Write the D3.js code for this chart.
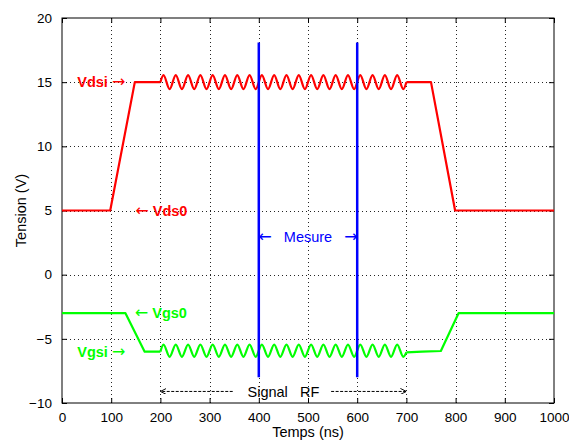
<!DOCTYPE html>
<html>
<head>
<meta charset="utf-8">
<script src="https://cdn.jsdelivr.net/npm/d3@7"></script>
<style>
  html, body { margin: 0; padding: 0; background: #ffffff; }
  svg { display: block; font-family: "Liberation Sans", Arial, sans-serif; }
</style>
</head>
<body>
<svg id="chart" width="569" height="442"></svg>
<script>
// Axis ticks
const xTicks = [0, 100, 200, 300, 400, 500, 600, 700, 800, 900, 1000];
const yTicks = [-10, -5, 0, 5, 10, 15, 20];

// Drain-source voltage: steps before and after the RF burst (ns, V)
const vdsBefore = [[0, 5], [98, 5], [148, 15], [200, 15]];
const vdsAfter = [[700, 15], [750, 15], [799, 5], [1000, 5]];

// Gate-source voltage: steps before and after the RF burst (ns, V)
const vgsBefore = [[0, -3], [129, -3], [168, -6], [200, -6]];
const vgsAfter = [[700, -6.05], [732, -6.0], [770, -5.95], [806, -3], [1000, -3]];

// RF burst: extrema instants (ns) and levels (V)
const rfTimes = [200, 206.25, 218.75, 231.25, 243.75, 256.25, 268.75, 281.25, 293.75,
  306.25, 318.75, 331.25, 343.75, 356.25, 368.75, 381.25, 393.75,
  406.25, 418.75, 431.25, 443.75, 456.25, 468.75, 481.25, 493.75,
  506.25, 518.75, 531.25, 543.75, 556.25, 568.75, 581.25, 593.75,
  606.25, 618.75, 631.25, 643.75, 656.25, 668.75, 681.25, 693.75, 700];
const vdsRf = [15, 15.55, 14.45, 15.55, 14.45, 15.55, 14.45, 15.55, 14.45,
  15.55, 14.45, 15.55, 14.45, 15.55, 14.45, 15.55, 14.45,
  15.55, 14.45, 15.55, 14.45, 15.55, 14.45, 15.55, 14.45,
  15.55, 14.45, 15.55, 14.45, 15.55, 14.45, 15.55, 14.45,
  15.55, 14.45, 15.55, 14.45, 15.55, 14.45, 15.55, 14.45, 15];
const vgsRf = [-6, -5.45, -6.4, -5.45, -6.4, -5.45, -6.4, -5.45, -6.4,
  -5.45, -6.4, -5.45, -6.4, -5.45, -6.4, -5.45, -6.4,
  -5.45, -6.4, -5.45, -6.4, -5.45, -6.4, -5.45, -6.4,
  -5.45, -6.4, -5.45, -6.4, -5.45, -6.4, -5.45, -6.4,
  -5.45, -6.4, -5.45, -6.4, -5.45, -6.4, -5.45, -6.4, -6.05];

// Measurement window markers
const measureTimes = [400, 600];
const measureSpan = [-8, 18.1];

// RF signal extent
const rfSpan = [200, 700];

const svg = d3.select("#chart");
const plotLeft = 62, plotRight = 554, plotTop = 18, plotBottom = 403;

const x = d3.scaleLinear().domain([0, 1000]).range([plotLeft, plotRight]);
const y = d3.scaleLinear().domain([-10, 20]).range([plotBottom, plotTop]);

const RED = "#ff0000", GREEN = "#00ff00", BLUE = "#0000ff";
const ARROW_FONT = "'DejaVu Sans', sans-serif";

svg.append("defs").call(defs => {
  defs.append("marker").attr("id", "head").attr("viewBox", "0 0 10 10")
    .attr("refX", 10).attr("refY", 5).attr("markerWidth", 6).attr("markerHeight", 6)
    .attr("markerUnits", "userSpaceOnUse").attr("orient", "auto")
    .append("path").attr("d", "M0,0 L10,5 L0,10").attr("fill", "none")
    .attr("stroke", "#000").attr("stroke-width", 1.6);
});

// Dotted grid
const grid = svg.append("g").attr("stroke", "#000").attr("stroke-width", 1)
  .attr("stroke-dasharray", "1,3").attr("opacity", 0.85);
xTicks.slice(1, -1).forEach(t => grid.append("line")
  .attr("x1", Math.round(x(t)) + 0.5).attr("x2", Math.round(x(t)) + 0.5)
  .attr("y1", plotTop).attr("y2", plotBottom));
yTicks.slice(1, -1).forEach(t => grid.append("line")
  .attr("y1", Math.round(y(t)) + 0.5).attr("y2", Math.round(y(t)) + 0.5)
  .attr("x1", plotLeft).attr("x2", plotRight));

// Axes with inward ticks on all four sides
const tickLen = 5;
const fmt = d3.format("d");
const gx = svg.append("g").attr("transform", `translate(0,${plotBottom})`)
  .call(d3.axisBottom(x).tickValues(xTicks).tickFormat(fmt)
    .tickSizeInner(-tickLen).tickSizeOuter(0).tickPadding(9));
const gy = svg.append("g").attr("transform", `translate(${plotLeft},0)`)
  .call(d3.axisLeft(y).tickValues(yTicks).tickFormat(fmt)
    .tickSizeInner(-tickLen).tickSizeOuter(0).tickPadding(10));
const gxt = svg.append("g").attr("transform", `translate(0,${plotTop})`)
  .call(d3.axisTop(x).tickValues(xTicks).tickSizeInner(-tickLen).tickSizeOuter(0).tickFormat(""));
const gyr = svg.append("g").attr("transform", `translate(${plotRight},0)`)
  .call(d3.axisRight(y).tickValues(yTicks).tickSizeInner(-tickLen).tickSizeOuter(0).tickFormat(""));
[gx, gy, gxt, gyr].forEach(g => {
  g.select(".domain").remove();
  g.selectAll("line").attr("stroke", "#000");
  g.selectAll("text").attr("fill", "#000").style("font-size", "13.5px")
    .style("font-family", "'Liberation Sans', Arial, sans-serif");
});
svg.append("rect").attr("x", plotLeft).attr("y", plotTop)
  .attr("width", plotRight - plotLeft).attr("height", plotBottom - plotTop)
  .attr("fill", "none").attr("stroke", "#000").attr("stroke-width", 1);

// Axis titles
svg.append("text").attr("x", (plotLeft + plotRight) / 2).attr("y", 437)
  .attr("text-anchor", "middle").style("font-size", "14.5px").text("Temps (ns)");
svg.append("text").attr("transform", `translate(26,${(plotTop + plotBottom) / 2}) rotate(-90)`)
  .attr("text-anchor", "middle").style("font-size", "14.5px").text("Tension (V)");

// Signal traces
const lin = d3.line().x(d => x(d[0])).y(d => y(d[1]));
const wave = d3.line().x(d => x(d[0])).y(d => y(d[1])).curve(d3.curveMonotoneX);
function trace(before, rf, after, color) {
  const g = svg.append("g").attr("fill", "none").attr("stroke", color)
    .attr("stroke-width", 2.2).attr("stroke-linejoin", "round");
  g.append("path").attr("d", lin(before));
  g.append("path").attr("d", wave(rfTimes.map((t, i) => [t, rf[i]])));
  g.append("path").attr("d", lin(after));
}
trace(vdsBefore, vdsRf, vdsAfter, RED);
trace(vgsBefore, vgsRf, vgsAfter, GREEN);

// Measurement markers
svg.append("g").selectAll("line").data(measureTimes).join("line")
  .attr("x1", d => x(d)).attr("x2", d => x(d))
  .attr("y1", y(measureSpan[0])).attr("y2", y(measureSpan[1]))
  .attr("stroke", BLUE).attr("stroke-width", 2.5);

// Annotations: parts are [text, bold, isArrow]
function label(t, v, color, parts, anchor) {
  const txt = svg.append("text").attr("x", x(t)).attr("y", y(v)).attr("dy", "0.36em")
    .attr("fill", color).attr("text-anchor", anchor || "start")
    .style("font-size", "14.5px").style("white-space", "pre");
  parts.forEach(p => {
    const s = txt.append("tspan").attr("font-weight", p[1] ? "bold" : "normal").text(p[0]);
    if (p[2]) s.style("font-family", ARROW_FONT).style("font-size", "16px");
  });
}
label(31, 15, RED, [["Vdsi ", true], ["\u2192", false, true]]);
label(149, 5, RED, [["\u2190", false, true], [" Vds0", true]]);
label(148, -3, GREEN, [["\u2190", false, true], [" Vgs0", true]]);
label(31, -6, GREEN, [["Vgsi ", true], ["\u2192", false, true]]);
label(500, 2.95, BLUE, [["\u2190", false, true], ["   Mesure   ", false], ["\u2192", false, true]], "middle");
label(450, -9.1, "#000", [["Signal   RF", false]], "middle");

// RF extent arrows
const ya = y(-9.1);
svg.append("line").attr("x1", x(347)).attr("x2", x(rfSpan[0])).attr("y1", ya).attr("y2", ya)
  .attr("stroke", "#000").attr("stroke-width", 1).attr("stroke-dasharray", "3,1.5")
  .attr("marker-end", "url(#head)");
svg.append("line").attr("x1", x(547)).attr("x2", x(rfSpan[1])).attr("y1", ya).attr("y2", ya)
  .attr("stroke", "#000").attr("stroke-width", 1).attr("stroke-dasharray", "3,1.5")
  .attr("marker-end", "url(#head)");
</script>
</body>
</html>
